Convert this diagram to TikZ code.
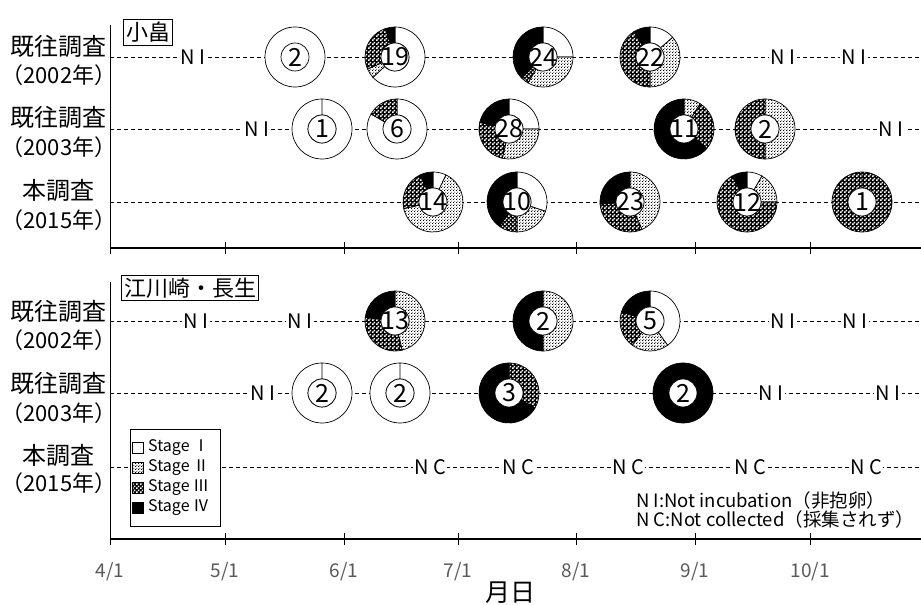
\documentclass[tikz,border=0pt]{standalone}
\usepackage{fontspec}
\setmainfont{Noto Sans CJK JP}
\usetikzlibrary{patterns}

\pgfdeclarepatternformonly{stagedots}{\pgfpointorigin}{\pgfpoint{3pt}{3pt}}{\pgfpoint{3pt}{3pt}}{%
  \pgfpathrectangle{\pgfpoint{0.2pt}{0.2pt}}{\pgfpoint{1.1pt}{1.1pt}}%
  \pgfpathrectangle{\pgfpoint{1.7pt}{1.7pt}}{\pgfpoint{1.1pt}{1.1pt}}%
  \pgfusepath{fill}}
\pgfdeclarepatternformonly{stageholes}{\pgfpointorigin}{\pgfpoint{4pt}{4pt}}{\pgfpoint{4pt}{4pt}}{%
  \pgfpathrectangle{\pgfpoint{0.1pt}{0.1pt}}{\pgfpoint{1.8pt}{1.8pt}}%
  \pgfpathrectangle{\pgfpoint{2.1pt}{2.1pt}}{\pgfpoint{1.8pt}{1.8pt}}%
  \pgfusepath{fill}}

\newcommand{\ringout}{30pt}
\newcommand{\ringin}{14pt}
% one sector of a ring, angles clockwise from 12 o'clock
\newcommand{\ringpart}[4]{%
  \pgfmathsetmacro{\ringS}{90-#2}\pgfmathsetmacro{\ringE}{90-#3}%
  \path[#4] ([shift={(\ringS:\ringout)}]#1) arc[start angle=\ringS, end angle=\ringE, radius=\ringout]
    -- ([shift={(\ringE:\ringin)}]#1) arc[start angle=\ringE, end angle=\ringS, radius=\ringin] -- cycle;}
% name, x, y, counts of stage I..IV
\newcommand{\stagering}[7]{%
  \coordinate (#1) at (#2,#3);
  \pgfmathtruncatemacro{\ringsum}{#4+#5+#6+#7}%
  \pgfmathsetmacro{\angA}{360*(#4)/\ringsum}%
  \pgfmathsetmacro{\angB}{360*(#4+#5)/\ringsum}%
  \pgfmathsetmacro{\angC}{360*(#4+#5+#6)/\ringsum}%
  \ifnum#4>0\relax \ringpart{#1}{0}{\angA}{stage1}\fi
  \ifnum#5>0\relax \ringpart{#1}{\angA}{\angB}{stage2}\fi
  \ifnum#6>0\relax \ringpart{#1}{\angB}{\angC}{stage3}\fi
  \ifnum#7>0\relax \ringpart{#1}{\angC}{360}{stage4}\fi
  \draw[stage1] (#1) circle (\ringin);
  \node[ringcount] (#1n) at (#1) {\ringsum};}

\begin{document}
\begin{tikzpicture}[x=1pt, y=1pt,
        stage1/.style={draw=black, line width=0.7pt, fill=white},
        stage2/.style={draw=black, line width=0.7pt, preaction={fill=white}, pattern=stagedots, pattern color=black},
        stage3/.style={draw=black, line width=0.7pt, preaction={fill=black}, pattern=stageholes, pattern color=white},
        stage4/.style={draw=black, line width=0.7pt, fill=black},
        ringcount/.style={inner sep=0pt, font=\fontsize{25}{25}\selectfont},
        rowline/.style={dash pattern=on 4pt off 3pt, line width=0.8pt},
        axisline/.style={line width=1.3pt},
        rowlabel/.style={inner sep=0pt, font=\fontsize{24}{29}\selectfont},
        yearlabel/.style={inner sep=0pt, font=\fontsize{22}{22}\selectfont},
        sitebox/.style={draw, line width=0.8pt, fill=white, inner sep=2.5pt, font=\fontsize{22}{22}\selectfont},
        flag/.style={fill=white, inner sep=1.5pt, font=\fontsize{20}{20}\selectfont},
        ticklabel/.style={inner sep=0pt, text=black!65, font=\fontsize{19}{19}\selectfont},
        swatch/.style={minimum size=11pt, inner sep=0pt},
        legendtext/.style={anchor=west, inner sep=0pt, font=\fontsize{16}{16}\selectfont},
        notetext/.style={anchor=west, inner sep=0pt, font=\fontsize{18.5}{18.5}\selectfont}
    ]
    \useasboundingbox (0,0) rectangle (921,605);

    % axes
    \coordinate (ta) at (110,580);
    \coordinate (tb) at (110,357);
    \coordinate (tc) at (921,357);
    \coordinate (ba) at (110,323);
    \coordinate (bb) at (110,66);
    \coordinate (bc) at (921,66);
    \draw[line width=0.9pt] (ta) -- (tb);
    \draw[axisline] (tb) -- (tc);
    \draw[line width=0.9pt] (ba) -- (bb);
    \draw[axisline] (bb) -- (bc);
    \foreach \x/\m in {110/4, 225/5, 344/6, 458/7, 576/8, 695/9, 810/10} {
        \draw[line width=0.8pt] (\x,351) -- (\x,363);
        \draw[line width=0.8pt] (\x,60) -- (\x,72);
        \node[ticklabel] (m\m) at (\x,33) {\m/1};
    }
    \node[font=\fontsize{25}{25}\selectfont] (xlab) at (510,12) {月日};

    % survey rows
    \foreach \y/\r in {548/t1, 476/t2, 403/t3, 284/b1, 212/b2, 138/b3} {
        \coordinate (\r-s) at (110,\y);
        \coordinate (\r-e) at (921,\y);
        \draw[rowline] (\r-s) -- (\r-e);
    }

    \node[rowlabel] (t1a) at (58,559) {既往調査};
    \node[yearlabel] (t1b) at (59,530) {（2002年）};
    \node[rowlabel] (t2a) at (58,488) {既往調査};
    \node[yearlabel] (t2b) at (59,458) {（2003年）};
    \node[rowlabel] (t3a) at (58,415) {本調査};
    \node[yearlabel] (t3b) at (59,385) {（2015年）};
    \node[rowlabel] (b1a) at (58,294) {既往調査};
    \node[yearlabel] (b1b) at (59,265) {（2002年）};
    \node[rowlabel] (b2a) at (58,222) {既往調査};
    \node[yearlabel] (b2b) at (59,192) {（2003年）};
    \node[rowlabel] (b3a) at (58,150) {本調査};
    \node[yearlabel] (b3b) at (59,122) {（2015年）};

    \node[sitebox] (site1) at (148,572.5) {小畠};
    \node[sitebox] (site2) at (190,317) {江川崎・長生};

    % not incubated / not collected
    \node[flag] (ni1) at (193,548) {N I};
    \node[flag] (ni2) at (783,548) {N I};
    \node[flag] (ni3) at (854,548) {N I};
    \node[flag] (ni4) at (257,476) {N I};
    \node[flag] (ni5) at (891,476) {N I};
    \node[flag] (ni6) at (196,284) {N I};
    \node[flag] (ni7) at (300,284) {N I};
    \node[flag] (ni8) at (783,284) {N I};
    \node[flag] (ni9) at (855,284) {N I};
    \node[flag] (ni10) at (263,212) {N I};
    \node[flag] (ni11) at (771,212) {N I};
    \node[flag] (ni12) at (888,212) {N I};
    \node[flag] (nc1) at (430,138) {N C};
    \node[flag] (nc2) at (518,138) {N C};
    \node[flag] (nc3) at (628,138) {N C};
    \node[flag] (nc4) at (750,138) {N C};
    \node[flag] (nc5) at (866,138) {N C};

    % egg stage rings, top panel
    \coordinate (t02p) at (295,548);
    \draw[stage1] (t02p) circle (\ringout);
    \draw[stage1] (t02p) circle (\ringin);
    \node[ringcount] (t02pn) at (t02p) {2};
    \stagering{t19}{395}{548}{12}{1}{5}{1}
    \stagering{t24}{543}{548}{6}{8}{1}{9}
    \stagering{t22}{650}{548}{3}{8}{9}{2}
    \stagering{t01}{322}{476}{1}{0}{0}{0}
    \stagering{t06}{397}{476}{5}{0}{1}{0}
    \stagering{t28}{509}{476}{7}{8}{7}{6}
    \stagering{t11}{684}{476}{0}{1}{3}{7}
    \stagering{t02}{765}{476}{0}{1}{1}{0}
    \stagering{t14}{433}{403}{1}{9}{3}{1}
    \stagering{t10}{517}{403}{3}{2}{1}{4}
    \stagering{t23}{630}{403}{0}{10}{7}{6}
    \stagering{t12}{747}{403}{1}{2}{8}{1}
    \stagering{t01c}{862}{403}{0}{0}{1}{0}
    % bottom panel
    \stagering{b13}{395}{284}{0}{6}{4}{3}
    \stagering{b02}{543}{284}{0}{1}{0}{1}
    \stagering{b05}{650}{284}{2}{1}{1}{1}
    \stagering{b02a}{322}{212}{2}{0}{0}{0}
    \stagering{b02b}{400}{212}{2}{0}{0}{0}
    \stagering{b03}{509}{212}{0}{0}{1}{2}
    \stagering{b02c}{683}{212}{0}{0}{0}{2}

    % legend
    \node[draw, fill=white, line width=0.8pt, minimum width=90pt, minimum height=97pt, inner sep=0pt] (legend) at (175,127.5) {};
    \node[swatch, stage1] (lg1) at (138,157) {};
    \node[swatch, stage2] (lg2) at (138,137) {};
    \node[swatch, stage3] (lg3) at (138,117) {};
    \node[swatch, stage4] (lg4) at (138,97) {};
    \node[legendtext] (lt1) at (148,157) {Stage Ⅰ};
    \node[legendtext] (lt2) at (148,137) {Stage Ⅱ};
    \node[legendtext] (lt3) at (148,117) {Stage Ⅲ};
    \node[legendtext] (lt4) at (148,97) {Stage Ⅳ};

    \node[notetext] (noteni) at (636,105) {N I:Not incubation（非抱卵）};
    \node[notetext] (notenc) at (636,86) {N C:Not collected（採集されず）};
\end{tikzpicture}
\end{document}
